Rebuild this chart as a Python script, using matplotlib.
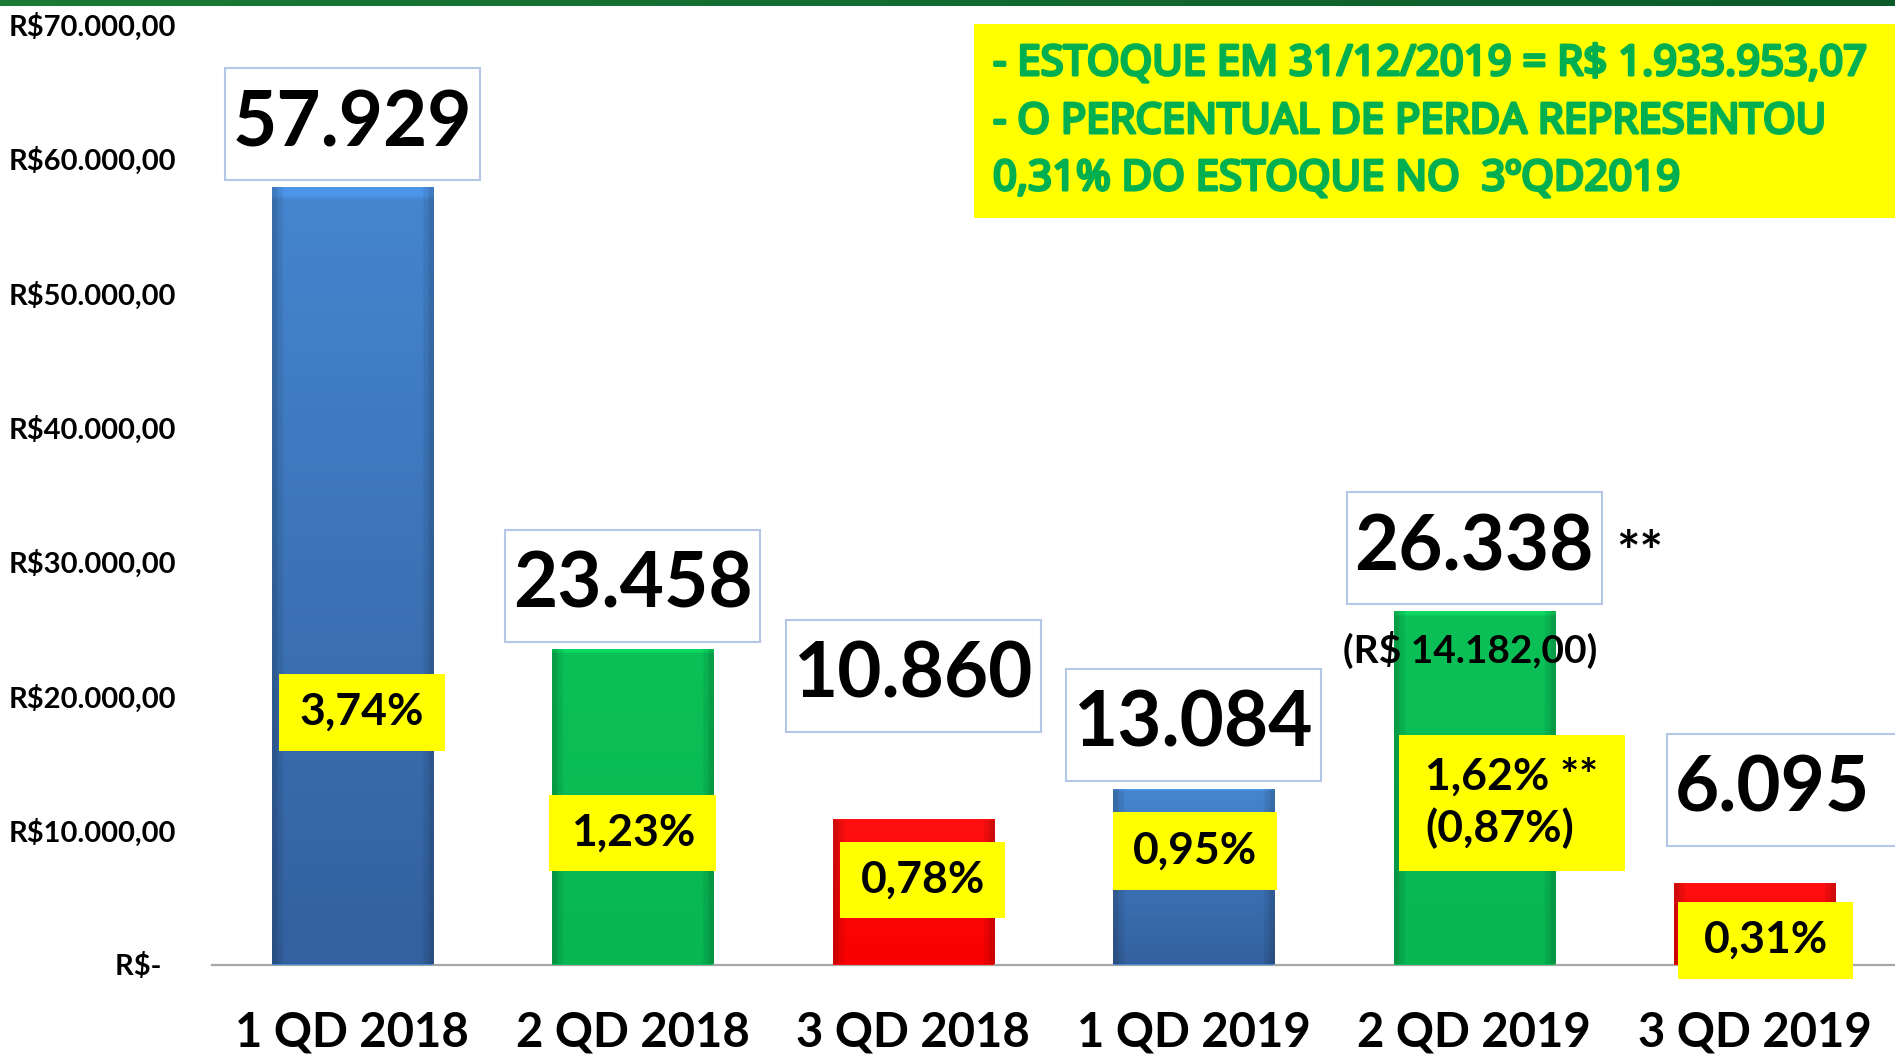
import numpy as np
import matplotlib
matplotlib.use("Agg")
import matplotlib.pyplot as plt
from matplotlib.patches import Rectangle
from matplotlib.colors import to_rgb
from matplotlib.transforms import IdentityTransform
import matplotlib.patheffects as pe

# ---------------- data ----------------
categories = ["1 QD 2018", "2 QD 2018", "3 QD 2018", "1 QD 2019", "2 QD 2019", "3 QD 2019"]
values = [57929, 23458, 10860, 13084, 26338, 6095]
value_labels = ["57.929", "23.458", "10.860", "13.084", "26.338", "6.095"]
pct_labels = ["3,74%", "1,23%", "0,78%", "0,95%", "1,62% **\n(0,87%)", "0,31%"]
ytick_values = [0, 10000, 20000, 30000, 40000, 50000, 60000, 70000]
ytick_labels = ["R$-  ", "R$10.000,00", "R$20.000,00", "R$30.000,00", "R$40.000,00",
                "R$50.000,00", "R$60.000,00", "R$70.000,00"]
note_lines = ["- ESTOQUE EM 31/12/2019 = R$ 1.933.953,07",
              "- O PERCENTUAL DE PERDA REPRESENTOU",
              "0,31% DO ESTOQUE NO  3ºQD2019"]
extra_value_text = "(R$ 14.182,00)"
extra_mark = "**"

# ---------------- layout / style ----------------
W, H = 1895, 1054
FONT = "Lato"
bar_kind = ["blue", "green", "red", "blue", "green", "red"]
grad = {"blue": ("#4586D0", "#33609E"),
        "green": ("#0BC157", "#08B652"),
        "red": ("#FF1010", "#FA0000")}
# offsets (points) of value labels relative to bar top
val_off = [(0, 45), (0, 46), (0, 103), (0, 46), (0, 45), (13, 67)]
val_box = [(255, 112)] * 5 + [(229, 112)]
val_box_dx = [0, 0, 0, 0, 0, 9]
# percentage label y positions (data units) and x offsets (points)
pct_y = [18800, 9790, 6290, 8450, 12030, 1820]
pct_dx = [7, 0, 7, 1, 27, 8]
pct_box = [(166, 77), (167, 76), (165, 76), (164, 78), (226, 136), (175, 77)]

fig = plt.figure(figsize=(W / 100, H / 100), dpi=100)
fig.patch.set_facecolor("white")

ax_left, ax_right = 212, 1895
y0_px, ytop_px = 964.5, 24.4
ax = fig.add_axes([ax_left / W, 1 - y0_px / H, (ax_right - ax_left) / W, (y0_px - ytop_px) / H])
ax.set_facecolor("none")

x = np.arange(len(categories))
bars = ax.bar(x, values, width=0.575, color=[grad[k][0] for k in bar_kind], zorder=2,
              linewidth=0)

# gradient fill inside each bar
for b, k in zip(bars, bar_kind):
    x0, w, h = b.get_x(), b.get_width(), b.get_height()
    top, bot = np.array(to_rgb(grad[k][0])), np.array(to_rgb(grad[k][1]))
    t = np.linspace(0, 1, 200)[:, None, None]
    img = top * (1 - t) + bot * t
    img = np.repeat(img, 60, axis=1)
    shade = np.ones(60)
    shade[:2] = 0.82
    shade[-2:] = 0.82
    shade[2:4] = 0.92
    shade[-4:-2] = 0.92
    img = img * shade[None, :, None]
    img[:3] = np.clip(img[:3] * 1.12, 0, 1)
    im = ax.imshow(img, extent=[x0, x0 + w, 0, h], aspect="auto", zorder=2.1,
                   interpolation="bilinear")
    im.set_clip_path(b)

ax.set_xlim(-0.5, 5.5)
ax.set_ylim(0, 70000)
ax.set_autoscale_on(False)

for s in ["left", "top", "right"]:
    ax.spines[s].set_visible(False)
ax.spines["bottom"].set_color("#A6A6A6")
ax.spines["bottom"].set_linewidth(1.6)
ax.spines["bottom"].set_zorder(1)

ax.set_yticks(ytick_values)
ax.set_yticklabels(ytick_labels, fontfamily=FONT, fontweight="bold", fontsize=21)
ax.tick_params(axis="y", length=0, pad=26)
ax.set_xticks(x)
ax.set_xticklabels(categories, fontfamily=FONT, fontweight="bold", fontsize=34)
ax.tick_params(axis="x", length=0, pad=33)

# value labels
val_texts = []
for i, (v, lab) in enumerate(zip(values, value_labels)):
    dx, dy = val_off[i]
    t = ax.annotate(lab, xy=(i, v), xytext=(dx, dy), textcoords="offset points",
                    ha="center", va="center", fontsize=55, fontweight="bold",
                    fontfamily=FONT, color="black", zorder=6)
    val_texts.append(t)

# percentage labels
pct_texts = []
for i, lab in enumerate(pct_labels):
    t = ax.annotate(lab, xy=(i, pct_y[i]), xytext=(pct_dx[i], 0), textcoords="offset points",
                    ha="center", va="center", fontsize=32, fontweight="bold",
                    fontfamily=FONT, color="black", zorder=8,
                    multialignment="left", linespacing=1.3)
    pct_texts.append(t)

# extra annotations on 2 QD 2019
ax.annotate(extra_value_text, xy=(4, values[4]), xytext=(-3, -28), textcoords="offset points",
            ha="center", va="center", fontsize=28, fontweight="bold", fontfamily=FONT,
            color="black", zorder=6)
ax.annotate(extra_mark, xy=(4, values[4]), xytext=(119, 40), textcoords="offset points",
            ha="center", va="center", fontsize=40, fontweight="bold", fontfamily=FONT,
            color="black", zorder=6)

# top green band
band = np.linspace(0, 1, 256)[None, :, None]
c1, c2 = np.array(to_rgb("#1B7A35")), np.array(to_rgb("#0A5A2A"))
band_img = c1 * (1 - band) + c2 * band
bax = fig.add_axes([0, 1 - 6 / H, 1, 6 / H])
bax.imshow(band_img, aspect="auto", extent=[0, 1, 0, 1])
bax.set_axis_off()

# note box (top right)
fig.add_artist(Rectangle((974 / W, 1 - 218 / H), (W - 974) / W, 194 / H,
                         transform=fig.transFigure, fc="#FFFF00", ec="none", zorder=3))
note_texts = []
for yy, line in zip([64, 122, 179], note_lines):
    t = fig.text(993 / W, 1 - yy / H, line, ha="left", va="center", fontsize=30,
                 fontweight="bold", fontfamily="Noto Sans", fontstretch="condensed",
                 color="#00B050", zorder=4,
                 path_effects=[pe.withStroke(linewidth=2.2, foreground="#00B050")])
    note_texts.append(t)

# ---- size-dependent boxes (measured after a draw) ----
fig.canvas.draw()
r = fig.canvas.get_renderer()
w2 = note_texts[1].get_window_extent(r).width
fs = 30 * 832 / w2
for t in note_texts:
    t.set_fontsize(fs)

def add_box(text, size, dx, fc, ec, lw, z):
    bb = text.get_window_extent(r)
    cx, cy = (bb.x0 + bb.x1) / 2 + dx, (bb.y0 + bb.y1) / 2
    bw, bh = size
    ax.add_patch(Rectangle((cx - bw / 2, cy - bh / 2), bw, bh, transform=IdentityTransform(),
                           fc=fc, ec=ec, lw=lw, zorder=z, clip_on=False))

for t, s, d in zip(val_texts, val_box, val_box_dx):
    add_box(t, s, d, "white", "#B4C7E7", 1.5, 5)
for t, s in zip(pct_texts, pct_box):
    add_box(t, s, 0, "#FFFF00", "none", 0, 7)

fig.savefig("out.png", dpi=100)
